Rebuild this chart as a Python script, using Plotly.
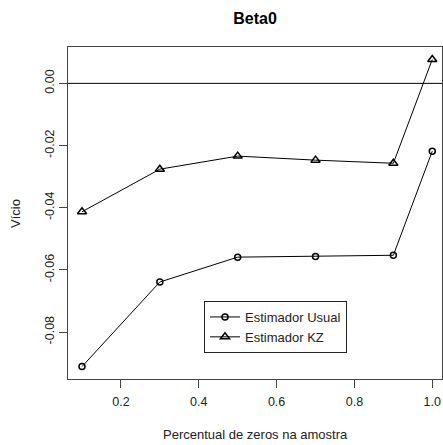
import plotly.graph_objects as go

x_vals = [0.1, 0.3, 0.5, 0.7, 0.9, 1.0]
usual = [-0.0911, -0.0639, -0.0559, -0.0557, -0.0553, -0.0218]
kz = [-0.0413, -0.0276, -0.0234, -0.0247, -0.0257, 0.0077]
x_ticks = [0.2, 0.4, 0.6, 0.8, 1.0]
x_ticktext = ["0.2", "0.4", "0.6", "0.8", "1.0"]
y_ticks = [0.00, -0.02, -0.04, -0.06, -0.08]
y_ticktext = ["0.00", "-0.02", "-0.04", "-0.06", "-0.08"]

FONT = "Liberation Sans, Arial, sans-serif"
W, H = 443, 445
L, R, T, B = 68, 1, 47, 66
PW, PH = W - L - R, H - T - B

fig = go.Figure()
fig.add_trace(go.Scatter(
    x=x_vals, y=usual, mode="lines+markers", name="Estimador Usual",
    line=dict(color="black", width=1),
    marker=dict(symbol="circle-open", size=6, color="black", line=dict(width=1.5)),
))
fig.add_trace(go.Scatter(
    x=x_vals, y=kz, mode="lines+markers", name="Estimador KZ",
    line=dict(color="black", width=1),
    marker=dict(symbol="triangle-up-open", size=8, color="black", line=dict(width=1.5)),
))

fig.add_hline(y=0, line=dict(color="black", width=1))

fig.update_layout(
    width=W, height=H,
    margin=dict(l=L, r=R, t=T, b=B),
    paper_bgcolor="white", plot_bgcolor="white",
    font=dict(family=FONT, size=13, color="#222"),
    showlegend=True,
    legend=dict(
        x=(204 - 68) / PW, y=(379 - 301) / PH, xanchor="left", yanchor="top",
        bordercolor="#222", borderwidth=1, bgcolor="white",
        font=dict(size=13, color="#222"), itemwidth=30,
        tracegroupgap=0,
    ),
    title=dict(text="<b>Beta0</b>", x=255 / W, xanchor="center",
               y=1 - 18 / H, yanchor="middle",
               font=dict(size=16, color="black")),
)
fig.update_xaxes(
    range=[0.064, 1.025], showgrid=False, zeroline=False,
    tickvals=x_ticks, ticktext=x_ticktext, ticks="outside", ticklen=8,
    tickcolor="#444", showline=True, linecolor="#444", mirror=True,
    tickfont=dict(size=12.5, color="#222"), ticklabelstandoff=3,
)
fig.update_yaxes(
    range=[-0.0951, 0.0117], showgrid=False, zeroline=False,
    tickvals=y_ticks, ticktext=y_ticktext, ticks="outside", ticklen=8,
    tickcolor="#444", showline=True, linecolor="#444", mirror=True,
    tickangle=-90, tickfont=dict(size=12.5, color="#222"), ticklabelstandoff=0,
)

fig.add_annotation(text="Percentual de zeros na amostra", xref="paper", yref="paper",
                   x=0.5, y=-(434 - 379) / PH, yanchor="middle", showarrow=False,
                   font=dict(size=13, color="#222"))
fig.add_annotation(text="Vício", xref="paper", yref="paper",
                   x=-(68 - 15) / PW, y=(379 - 213) / PH, xanchor="center",
                   yanchor="middle", textangle=-90, showarrow=False,
                   font=dict(size=13, color="#222"))

fig.write_html(
    "out.html",
    config={"displayModeBar": False},
    post_script="document.body.style.margin='0';document.body.style.overflow='hidden';",
)
